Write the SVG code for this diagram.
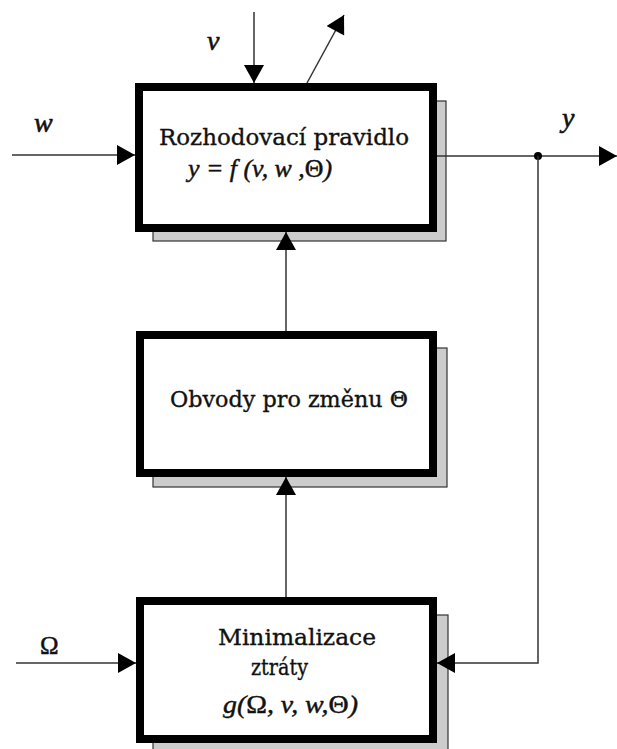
<svg xmlns="http://www.w3.org/2000/svg" width="617" height="749" viewBox="0 0 617 749">
  <style>
    .shadow { fill: #cccccc; stroke: #333333; stroke-width: 1.2; }
    .box { fill: #ffffff; stroke: #000000; stroke-width: 8; }
    .conn { fill: none; stroke: #333333; stroke-width: 1.5; }
    .t { font-family: "DejaVu Serif", "Liberation Serif", serif; font-size: 22px; fill: #111111; stroke: #111111; stroke-width: 0.35; }
    .it { font-family: "Liberation Serif", "Times New Roman", serif; font-style: italic; font-size: 25px; fill: #111111; stroke: #111111; stroke-width: 0.45; }
    .n { font-style: normal; }
    .lab { font-family: "Liberation Serif", "Times New Roman", serif; font-style: italic; font-size: 28px; fill: #111111; stroke: #111111; stroke-width: 0.6; }
    .up { font-family: "Liberation Serif", "Times New Roman", serif; font-size: 25px; fill: #111111; stroke: #111111; stroke-width: 0.5; }
  </style>
  <defs>
    <marker id="arr" markerUnits="userSpaceOnUse" markerWidth="20" markerHeight="20" viewBox="0 0 18 20" refX="18" refY="10" orient="auto">
      <path d="M0,0 L18,10 L0,20 Z" fill="#000000"/>
    </marker>
  </defs>

  <g id="node-rozhodovaci">
    <rect class="shadow" x="153" y="101" width="293" height="140"/>
    <rect class="box" x="139" y="87" width="294" height="141"/>
    <text class="t" x="159" y="145" textLength="250" lengthAdjust="spacingAndGlyphs">Rozhodovací pravidlo</text>
    <text class="it" x="188" y="177" textLength="144" lengthAdjust="spacingAndGlyphs">y = f (v, w ,<tspan class="n">Θ</tspan>)</text>
  </g>

  <g id="node-obvody">
    <rect class="shadow" x="153" y="348" width="294" height="139"/>
    <rect class="box" x="140" y="335" width="293" height="138"/>
    <text class="t" x="170" y="407" textLength="238" lengthAdjust="spacingAndGlyphs">Obvody pro změnu Θ</text>
  </g>

  <g id="node-minimalizace">
    <rect class="shadow" x="153" y="615" width="295" height="140"/>
    <rect class="box" x="140" y="601" width="293" height="138"/>
    <text class="t" x="218" y="645" textLength="158" lengthAdjust="spacingAndGlyphs">Minimalizace</text>
    <text class="t" x="251" y="675" textLength="57" lengthAdjust="spacingAndGlyphs">ztráty</text>
    <text class="it" x="223" y="713" textLength="135" lengthAdjust="spacingAndGlyphs">g(<tspan class="n">Ω</tspan>, v, w,<tspan class="n">Θ</tspan>)</text>
  </g>

  <g id="connectors">
    <line class="conn" x1="254" y1="12" x2="254" y2="83" marker-end="url(#arr)"/>
    <line class="conn" x1="307" y1="83" x2="344" y2="15" marker-end="url(#arr)"/>
    <line class="conn" x1="12" y1="155" x2="135" y2="155" marker-end="url(#arr)"/>
    <line class="conn" x1="437" y1="156" x2="617" y2="156" marker-end="url(#arr)"/>
    <circle cx="538" cy="156" r="4" fill="#000000"/>
    <polyline class="conn" points="538,156 538,663 437,663" marker-end="url(#arr)"/>
    <line class="conn" x1="286" y1="331" x2="286" y2="232" marker-end="url(#arr)"/>
    <line class="conn" x1="286" y1="597" x2="286" y2="477" marker-end="url(#arr)"/>
    <line class="conn" x1="16" y1="663" x2="136" y2="663" marker-end="url(#arr)"/>
  </g>

  <g id="labels">
    <text class="lab" x="207" y="50">v</text>
    <text class="lab" x="34" y="132">w</text>
    <text class="lab" x="562" y="127">y</text>
    <text class="up" x="40" y="654">Ω</text>
  </g>
</svg>
